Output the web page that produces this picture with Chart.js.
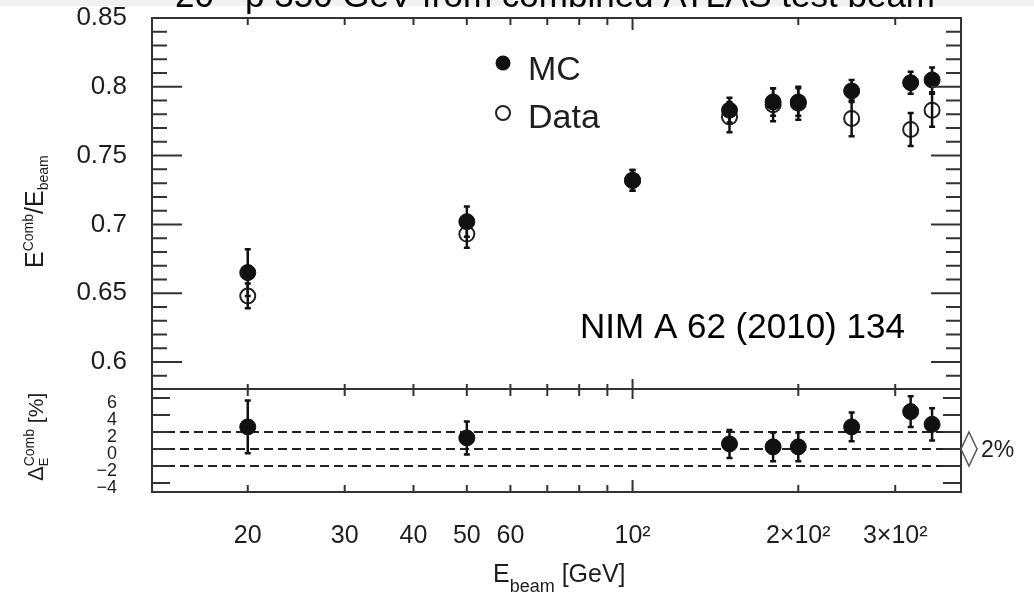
<!DOCTYPE html>
<html>
<head>
<meta charset="utf-8">
<script src="https://cdn.jsdelivr.net/npm/chart.js@4.4.1/dist/chart.umd.min.js"></script>
<style>
  html, body { margin: 0; padding: 0; background: #fff; }
  #wrap { position: relative; width: 1034px; height: 596px; overflow: hidden; }
  #wrap canvas { position: absolute; left: 0; top: 0; }
  #strip { position: absolute; left: 0; top: 0; width: 1034px; height: 6px; background: #f1f1f1; }
</style>
</head>
<body>
<div id="wrap">
  <div id="strip"></div>
  <canvas id="topChart" width="1034" height="596"></canvas>
  <canvas id="bottomChart" width="1034" height="596"></canvas>
</div>
<script>
// Data
const energies = [20, 50, 100, 150, 180, 200, 250, 320, 350];
const mcResponse = [0.665, 0.702, 0.732, 0.783, 0.789, 0.789, 0.797, 0.803, 0.805];
const mcError = [0.017, 0.011, 0.0075, 0.009, 0.01, 0.01, 0.008, 0.008, 0.009];
const dataResponse = [0.648, 0.693, 0.732, 0.778, 0.787, 0.788, 0.777, 0.769, 0.783];
const dataError = [0.009, 0.01, 0.0075, 0.011, 0.012, 0.012, 0.013, 0.012, 0.012];

const diffEnergies = [20, 50, 150, 180, 200, 250, 320, 350];
const diffPercent = [2.6, 1.3, 0.6, 0.25, 0.25, 2.6, 4.4, 2.9];
const diffError = [3.1, 1.95, 1.65, 1.7, 1.7, 1.7, 1.8, 1.9];
const bandLines = [2, 0, -2];

// Axes
const xTickValues = [20, 30, 40, 50, 60, 70, 80, 90, 100, 200, 300];
const xTickLabels = ['20', '30', '40', '50', '60', '', '', '', '10²', '2×10²', '3×10²'];
const yTopTicks = [0.6, 0.65, 0.7, 0.75, 0.8, 0.85];
const yTopLabels = ['0.6', '0.65', '0.7', '0.75', '0.8', '0.85'];
const yBottomTicks = [6, 4, 2, 0, -2, -4];
const yBottomLabels = ['6', '4', '2', '0', '−2', '−4'];
const xMin = 13.4, xMax = 395;
const yTopMin = 0.5804, yTopMax = 0.85;
const yBottomMin = -5.06, yBottomMax = 7.06;

const fontFamily = '"Liberation Sans", Arial, sans-serif';
const ink = '#1e1e1e';
const frameColor = '#333';

// minor marks for the upper y axis (every 0.01)
const yTopMarks = [];
for (let k = 59; k <= 85; k++) {
  yTopMarks.push({ value: k / 100, len: k % 5 === 0 ? 30 : 15 });
}
const yBottomMarks = yBottomTicks.map(v => ({ value: v, len: 18 }));

// keep the plot area exactly where the layout padding puts it
function noScalePadding(s) {
  s.paddingTop = 0; s.paddingBottom = 0; s.paddingLeft = 0; s.paddingRight = 0;
}

function drawRun(ctx, parts, x, y, angle) {
  ctx.save();
  ctx.translate(x, y);
  if (angle) ctx.rotate(angle);
  ctx.textAlign = 'left';
  ctx.textBaseline = 'alphabetic';
  ctx.fillStyle = ink;
  let cx = 0;
  parts.forEach(p => {
    ctx.font = p.size + 'px ' + fontFamily;
    ctx.fillText(p.text, cx, p.dy || 0);
    if (!p.stay) cx += ctx.measureText(p.text).width;
  });
  ctx.restore();
}

const frameTicks = {
  id: 'frameTicks',
  afterDraw(chart, args, opts) {
    const { ctx, chartArea: a } = chart;
    const xs = chart.scales.x, ys = chart.scales.y;
    ctx.save();
    ctx.strokeStyle = frameColor;
    ctx.lineWidth = 2;
    ctx.beginPath();
    opts.yMarks.forEach(m => {
      const py = ys.getPixelForValue(m.value);
      ctx.moveTo(a.left, py); ctx.lineTo(a.left + m.len, py);
      ctx.moveTo(a.right, py); ctx.lineTo(a.right - m.len, py);
    });
    xTickValues.forEach(v => {
      const px = xs.getPixelForValue(v);
      const big = v === 100;
      ctx.moveTo(px, a.top); ctx.lineTo(px, a.top + (big ? opts.topBig : opts.topSmall));
      ctx.moveTo(px, a.bottom); ctx.lineTo(px, a.bottom - (big ? opts.botBig : opts.botSmall));
    });
    ctx.stroke();
    ctx.strokeRect(a.left, a.top, a.width, a.height);
    ctx.restore();
    if (opts.extra) opts.extra(chart);
  }
};

const errorBars = {
  id: 'errorBars',
  afterDatasetsDraw(chart) {
    const { ctx } = chart;
    const xs = chart.scales.x, ys = chart.scales.y;
    ctx.save();
    ctx.strokeStyle = '#111';
    ctx.lineWidth = 2.5;
    chart.data.datasets.forEach(ds => {
      if (!ds.errors) return;
      ds.data.forEach((p, i) => {
        const px = xs.getPixelForValue(p.x);
        const top = ys.getPixelForValue(p.y + ds.errors[i]);
        const bot = ys.getPixelForValue(p.y - ds.errors[i]);
        ctx.beginPath();
        ctx.moveTo(px, top); ctx.lineTo(px, bot);
        ctx.moveTo(px - 3, top); ctx.lineTo(px + 3, top);
        ctx.moveTo(px - 3, bot); ctx.lineTo(px + 3, bot);
        ctx.stroke();
      });
    });
    ctx.restore();
  }
};

function xScale(showLabels) {
  return {
    type: 'logarithmic',
    min: xMin,
    max: xMax,
    display: showLabels,
    grid: { display: false, drawTicks: false },
    border: { display: false },
    afterBuildTicks: s => { s.ticks = xTickValues.map(v => ({ value: v })); },
    afterFit: s => { noScalePadding(s); if (showLabels) s.height = 104; },
    ticks: {
      autoSkip: false,
      maxRotation: 0,
      padding: 29,
      color: ink,
      font: { family: fontFamily, size: 25 },
      callback: (v, i) => xTickLabels[i]
    }
  };
}

// Upper panel: response
new Chart(document.getElementById('topChart'), {
  type: 'scatter',
  data: {
    datasets: [
      {
        label: 'MC',
        data: energies.map((e, i) => ({ x: e, y: mcResponse[i] })),
        errors: mcError,
        pointRadius: 8,
        pointBackgroundColor: '#111',
        pointBorderColor: '#111',
        pointBorderWidth: 1,
        order: 0
      },
      {
        label: 'Data',
        data: energies.map((e, i) => ({ x: e, y: dataResponse[i] })),
        errors: dataError,
        pointRadius: 7.5,
        pointBackgroundColor: '#fff',
        pointBorderColor: '#222',
        pointBorderWidth: 2,
        order: 1
      }
    ]
  },
  options: {
    responsive: false,
    animation: false,
    devicePixelRatio: 1,
    layout: { padding: { top: 18, right: 73, bottom: 207, left: 0 } },
    scales: {
      x: xScale(false),
      y: {
        min: yTopMin,
        max: yTopMax,
        grid: { display: false, drawTicks: false },
        border: { display: false },
        afterBuildTicks: s => { s.ticks = yTopTicks.map(v => ({ value: v })); },
        afterFit: s => { noScalePadding(s); s.width = 152; },
        ticks: {
          autoSkip: false,
          padding: 25,
          color: ink,
          font: { family: fontFamily, size: 26 },
          callback: (v, i) => yTopLabels[i]
        }
      }
    },
    plugins: {
      legend: { display: false },
      tooltip: { enabled: false },
      frameTicks: {
        yMarks: yTopMarks,
        topSmall: 7, topBig: 12, botSmall: 5, botBig: 10,
        extra: chart => {
          const ctx = chart.ctx;
          // legend
          const ds = chart.data.datasets;
          ctx.save();
          ctx.lineWidth = 2;
          ctx.fillStyle = '#111';
          ctx.beginPath(); ctx.arc(503, 63, 7.5, 0, Math.PI * 2); ctx.fill();
          ctx.strokeStyle = '#222';
          ctx.fillStyle = '#fff';
          ctx.beginPath(); ctx.arc(503, 113, 7, 0, Math.PI * 2); ctx.fill(); ctx.stroke();
          ctx.restore();
          drawRun(ctx, [{ text: ds[0].label, size: 34 }], 528, 80);
          drawRun(ctx, [{ text: ds[1].label, size: 34 }], 528, 128);

          // y title
          drawRun(ctx, [
            { text: 'E', size: 25 },
            { text: 'Comb', size: 14, dy: -10 },
            { text: '/', size: 25 },
            { text: 'E', size: 25 },
            { text: 'beam', size: 14, dy: 5 }
          ], 43, 268, -Math.PI / 2);

          // annotations
          ctx.save();
          ctx.fillStyle = '#000';
          ctx.textBaseline = 'alphabetic';
          ctx.font = '35px ' + fontFamily;
          ctx.fillText('NIM A 62 (2010) 134', 580, 338);
          ctx.fillText('20 - p 350 GeV from combined ATLAS test beam', 175, 7);
          ctx.restore();
        }
      }
    }
  },
  plugins: [frameTicks, errorBars]
});

// Lower panel: relative difference
new Chart(document.getElementById('bottomChart'), {
  type: 'scatter',
  data: {
    datasets: [
      {
        label: 'Delta',
        data: diffEnergies.map((e, i) => ({ x: e, y: diffPercent[i] })),
        errors: diffError,
        pointRadius: 8,
        pointBackgroundColor: '#111',
        pointBorderColor: '#111',
        pointBorderWidth: 1,
        order: 0
      },
      ...bandLines.map(v => ({
        label: 'band ' + v,
        data: [{ x: xMin, y: v }, { x: xMax, y: v }],
        showLine: true,
        borderColor: '#222',
        borderWidth: 2,
        borderDash: [9, 5],
        pointRadius: 0,
        order: 2
      }))
    ]
  },
  options: {
    responsive: false,
    animation: false,
    devicePixelRatio: 1,
    layout: { padding: { top: 389, right: 73, bottom: 0, left: 0 } },
    scales: {
      x: xScale(true),
      y: {
        min: yBottomMin,
        max: yBottomMax,
        grid: { display: false, drawTicks: false },
        border: { display: false },
        afterBuildTicks: s => { s.ticks = yBottomTicks.map(v => ({ value: v })); },
        afterFit: s => { noScalePadding(s); s.width = 152; },
        ticks: {
          autoSkip: false,
          padding: 35,
          labelOffset: 5,
          color: ink,
          font: { family: fontFamily, size: 18 },
          callback: (v, i) => yBottomLabels[i]
        }
      }
    },
    plugins: {
      legend: { display: false },
      tooltip: { enabled: false },
      frameTicks: {
        yMarks: yBottomMarks,
        topSmall: 7, topBig: 10, botSmall: 7, botBig: 12,
        extra: chart => {
          const ctx = chart.ctx;
          const ys = chart.scales.y;
          const a = chart.chartArea;
          // y title
          drawRun(ctx, [
            { text: 'Δ', size: 22 },
            { text: 'E', size: 13, dy: 5, stay: true },
            { text: 'Comb', size: 14, dy: -9 },
            { text: ' [%]', size: 21 }
          ], 43, 481, -Math.PI / 2);
          // x title
          drawRun(ctx, [
            { text: 'E', size: 25 },
            { text: 'beam', size: 18, dy: 10 },
            { text: ' [GeV]', size: 25 }
          ], 493, 582);
          // band marker
          const yHi = ys.getPixelForValue(bandLines[0]);
          const yMid = ys.getPixelForValue(bandLines[1]);
          const yLo = ys.getPixelForValue(bandLines[2]);
          const cx = a.right + 8;
          ctx.save();
          ctx.strokeStyle = '#555';
          ctx.lineWidth = 1.5;
          ctx.beginPath();
          ctx.moveTo(cx, yHi);
          ctx.lineTo(cx + 8, yMid);
          ctx.lineTo(cx, yLo);
          ctx.lineTo(cx - 8, yMid);
          ctx.closePath();
          ctx.stroke();
          ctx.restore();
          drawRun(ctx, [{ text: '2%', size: 23 }], 981, yMid + 8);
        }
      }
    }
  },
  plugins: [frameTicks, errorBars]
});
</script>
</body>
</html>
